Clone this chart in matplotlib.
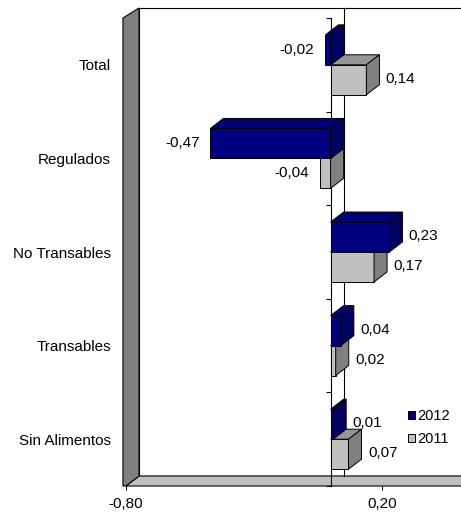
import matplotlib
matplotlib.use("Agg")
import matplotlib.pyplot as plt
from matplotlib.patches import Polygon, Rectangle, Patch
from matplotlib import markers

plt.rcParams["font.family"] = ["Liberation Sans", "DejaVu Sans"]

# datos
categorias = ["Total", "Regulados", "No Transables", "Transables", "Sin Alimentos"]
v2012 = [-0.02, -0.47, 0.23, 0.04, 0.01]
v2011 = [0.14, -0.04, 0.17, 0.02, 0.07]
etiquetas_x = ["-0,80", "0,20"]
ticks_x = [-0.80, 0.20]

# estilo / geometria 3D falsa
XMIN, XMAX = -0.80, 0.51
DX, DY = 0.051, 0.107      # profundidad en unidades de datos
H = 0.32                   # alto de cada barra (en categorias)
FS = 11
col_2012 = ("#000080", "#00007a", "#000060")   # frente, techo, lado
col_2011 = ("#c0c0c0", "#969696", "#808080")

fig = plt.figure(figsize=(4.61, 5.12), dpi=100)
ax = fig.add_axes([126 / 461, 26 / 512, 335 / 461, 468 / 512])
ax.set_xlim(XMIN, XMAX)
ax.set_ylim(0, 5)
for s in ax.spines.values():
    s.set_visible(False)

n = len(categorias)

# pared de fondo
ax.add_patch(Rectangle((XMIN + DX, DY), XMAX - XMIN + 0.2, n, facecolor="white",
                       edgecolor="black", lw=0.8, clip_on=False, zorder=0))
# piso
ax.add_patch(Polygon([(XMIN, 0), (XMAX + 0.2, 0), (XMAX + 0.2 + DX, DY), (XMIN + DX, DY)],
                     closed=True, facecolor="#c0c0c0", edgecolor="black", lw=0.8,
                     clip_on=False, zorder=1))
# pared izquierda
esp = 0.012
ax.add_patch(Polygon([(XMIN - esp, 0), (XMIN - esp, n), (XMIN + DX, n + DY), (XMIN + DX, DY),
                      (XMIN, 0)],
                     closed=True, facecolor="#808080", edgecolor="black", lw=0.8,
                     clip_on=False, zorder=1))

# lineas del cero (fondo y frente)
ax.plot([DX, DX], [DY, n + DY], color="black", lw=0.8, zorder=2, clip_on=False)
ax.plot([0, 0], [0, n], color="black", lw=0.8, zorder=2, clip_on=False)
ax.plot([0] * (n + 1), range(n + 1), linestyle="none", marker=markers.TICKLEFT,
        markersize=3.6, color="black", mew=0.8, zorder=2, clip_on=False)


def barra(v, y0, cols):
    xl, xr = min(0, v), max(0, v)
    frente, techo, lado = cols
    ax.add_patch(Rectangle((xl, y0), xr - xl, H, facecolor=frente, edgecolor="black",
                           lw=0.7, zorder=3))
    ax.add_patch(Polygon([(xl, y0 + H), (xr, y0 + H), (xr + DX, y0 + H + DY), (xl + DX, y0 + H + DY)],
                         closed=True, facecolor=techo, edgecolor="black", lw=0.7, zorder=3))
    ax.add_patch(Polygon([(xr, y0), (xr + DX, y0 + DY), (xr + DX, y0 + H + DY), (xr, y0 + H)],
                         closed=True, facecolor=lado, edgecolor="black", lw=0.7, zorder=3))
    txt = ("%.2f" % v).replace(".", ",")
    yc = y0 + H / 2
    if v >= 0:
        ax.text(v + DX + 0.025, yc + 0.01, txt, ha="left", va="center", fontsize=FS, zorder=5)
    else:
        ax.text(v - 0.043, yc, txt, ha="right", va="center", fontsize=FS, zorder=5)


centros = [n - i - 0.5 for i in range(n)]
for i in reversed(range(n)):
    c = centros[i]
    barra(v2011[i], c - H, col_2011)
    barra(v2012[i], c, col_2012)

ax.set_yticks(centros)
ax.set_yticklabels(categorias, fontsize=FS)
ax.tick_params(axis="y", length=0, pad=10.8)
ax.set_xticks(ticks_x)
ax.set_xticklabels(etiquetas_x, fontsize=FS)
ax.tick_params(axis="x", direction="out", length=3, width=0.8, pad=5)

leg = ax.legend(handles=[Patch(facecolor=col_2012[0], edgecolor="black", lw=0.7),
                         Patch(facecolor=col_2011[0], edgecolor="black", lw=0.7)],
                labels=["2012", "2011"], loc="upper left",
                bbox_to_anchor=(408 / 461, 1 - 409 / 512), bbox_transform=fig.transFigure,
                frameon=False, fontsize=FS - 0.5, handlelength=0.45, handleheight=0.45,
                handletextpad=0.15, labelspacing=0.65, borderpad=0, borderaxespad=0)

fig.savefig("out.png", dpi=100)
